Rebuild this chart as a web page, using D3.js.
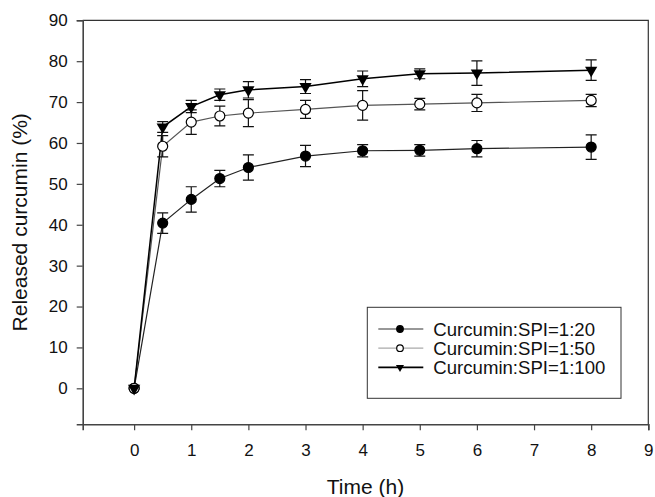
<!DOCTYPE html>
<html>
<head>
<meta charset="utf-8">
<script src="https://cdn.jsdelivr.net/npm/d3@7"></script>
<style>
  body { margin: 0; background: #fff; }
  text { font-family: "Liberation Sans", Arial, sans-serif; fill: #111; }
</style>
</head>
<body>
<script>
// data
var tiempos = [0, 0.5, 1, 1.5, 2, 3, 4, 5, 6, 8];
var serie20 = [0, 40.4, 46.2, 51.3, 54.0, 56.8, 58.1, 58.2, 58.6, 59.0];
var err20   = [0, 2.5, 3.1, 2.0, 3.1, 2.6, 1.5, 1.4, 2.0, 3.0];
var serie50 = [0, 59.2, 65.1, 66.6, 67.3, 68.2, 69.2, 69.5, 69.8, 70.4];
var err50   = [0, 2.6, 3.0, 2.4, 3.3, 2.2, 3.6, 1.4, 2.1, 1.5];
var serie100 = [0, 63.9, 68.9, 71.8, 73.0, 73.8, 75.7, 76.9, 77.1, 77.8];
var err100   = [0, 1.3, 1.5, 1.4, 2.0, 1.7, 1.9, 1.2, 3.0, 2.5];
var nombres = ["Curcumin:SPI=1:20", "Curcumin:SPI=1:50", "Curcumin:SPI=1:100"];
var xTicks = [0, 1, 2, 3, 4, 5, 6, 7, 8, 9];
var yTicks = [0, 10, 20, 30, 40, 50, 60, 70, 80, 90];

var width = 655, height = 497;
var margin = {top: 20.3, right: 6.7, bottom: 72.7, left: 82.7};

var svg = d3.select("body").append("svg")
  .attr("width", width)
  .attr("height", height);

var x = d3.scaleLinear().domain([-0.9, 9]).range([margin.left, width - margin.right]);
var y = d3.scaleLinear().domain([-8.8, 90]).range([height - margin.bottom, margin.top]);

// frame top / right
svg.append("path")
  .attr("d", "M" + x(-0.9) + "," + y(90) + "H" + x(9) + "V" + y(-8.8))
  .attr("fill", "none")
  .attr("stroke", "#333")
  .attr("stroke-width", 1.2);

// axes
var ejeX = svg.append("g")
  .attr("transform", "translate(0," + y(-8.8) + ")")
  .call(d3.axisBottom(x).tickValues(xTicks).tickSize(6).tickPadding(14).tickFormat(d3.format("d")));
var ejeY = svg.append("g")
  .attr("transform", "translate(" + x(-0.9) + ",0)")
  .call(d3.axisLeft(y).tickValues(yTicks).tickSize(6).tickPadding(9).tickFormat(d3.format("d")));

[ejeX, ejeY].forEach(function(g) {
  g.select(".domain").attr("stroke", "#444").attr("stroke-width", 1.6);
  g.selectAll(".tick line").attr("stroke", "#444").attr("stroke-width", 1.2);
  g.selectAll(".tick text").style("font-size", "17px").attr("fill", "#111");
});

// axis titles
svg.append("text")
  .attr("x", (x(-0.9) + x(9)) / 2)
  .attr("y", 494)
  .attr("text-anchor", "middle")
  .style("font-size", "21px")
  .text("Time (h)");

svg.append("text")
  .attr("transform", "translate(27," + ((y(-8.8) + y(90)) / 2) + ") rotate(-90)")
  .attr("text-anchor", "middle")
  .style("font-size", "21px")
  .text("Released curcumin (%)");

var series = [
  {nombre: nombres[0], v: serie20, e: err20, marca: "circulo", relleno: "#000", linea: "#222", ancho: 1.2},
  {nombre: nombres[1], v: serie50, e: err50, marca: "circulo", relleno: "#fff", linea: "#555", ancho: 1.2},
  {nombre: nombres[2], v: serie100, e: err100, marca: "triangulo", relleno: "#000", linea: "#000", ancho: 1.5}
];

var triangulo = d3.symbol().type(d3.symbolTriangle).size(60);

function dibujarMarca(g, s, px, py, r) {
  if (s.marca == "circulo") {
    g.append("circle")
      .attr("cx", px).attr("cy", py).attr("r", r)
      .attr("fill", s.relleno)
      .attr("stroke", "#000").attr("stroke-width", 1.2);
  } else {
    g.append("path")
      .attr("d", d3.symbol().type(d3.symbolTriangle).size(r * r * 2.6)())
      .attr("transform", "translate(" + px + "," + py + ") rotate(180)")
      .attr("fill", "#000");
  }
}

var linea = d3.line()
  .x(function(d) { return x(d[0]); })
  .y(function(d) { return y(d[1]); });

// lines first
series.forEach(function(s) {
  var pts = tiempos.map(function(t, i) { return [t, s.v[i]]; });
  svg.append("path")
    .datum(pts)
    .attr("fill", "none")
    .attr("stroke", s.linea)
    .attr("stroke-width", s.ancho)
    .attr("d", linea);
});

// error bars and markers
series.forEach(function(s) {
  var g = svg.append("g");
  tiempos.forEach(function(t, i) {
    if (s.e[i] > 0) {
      var px = x(t), y1 = y(s.v[i] + s.e[i]), y2 = y(s.v[i] - s.e[i]);
      g.append("path")
        .attr("d", "M" + px + "," + y1 + "V" + y2 +
                   "M" + (px - 5.5) + "," + y1 + "H" + (px + 5.5) +
                   "M" + (px - 5.5) + "," + y2 + "H" + (px + 5.5))
        .attr("fill", "none")
        .attr("stroke", "#111")
        .attr("stroke-width", 1.2);
    }
  });
  tiempos.forEach(function(t, i) {
    dibujarMarca(g, s, x(t), y(s.v[i]), 5);
  });
});

// legend
var ley = svg.append("g");
ley.append("rect")
  .attr("x", 367.3).attr("y", 307.3)
  .attr("width", 253.7).attr("height", 91)
  .attr("fill", "#fff")
  .attr("stroke", "#333").attr("stroke-width", 1);

var lineasLeyenda = ["#333", "#aaa", "#000"];
series.forEach(function(s, i) {
  var ly = 329 + i * 19.2;
  ley.append("line")
    .attr("x1", 378.3).attr("x2", 423.3)
    .attr("y1", ly).attr("y2", ly)
    .attr("stroke", lineasLeyenda[i])
    .attr("stroke-width", i == 2 ? 1.6 : 1.2);
  dibujarMarca(ley, s, 400, ly, 3.3);
  ley.append("text")
    .attr("x", 433.3).attr("y", ly + 6.6)
    .style("font-size", "18.6px")
    .text(s.nombre);
});
</script>
</body>
</html>
